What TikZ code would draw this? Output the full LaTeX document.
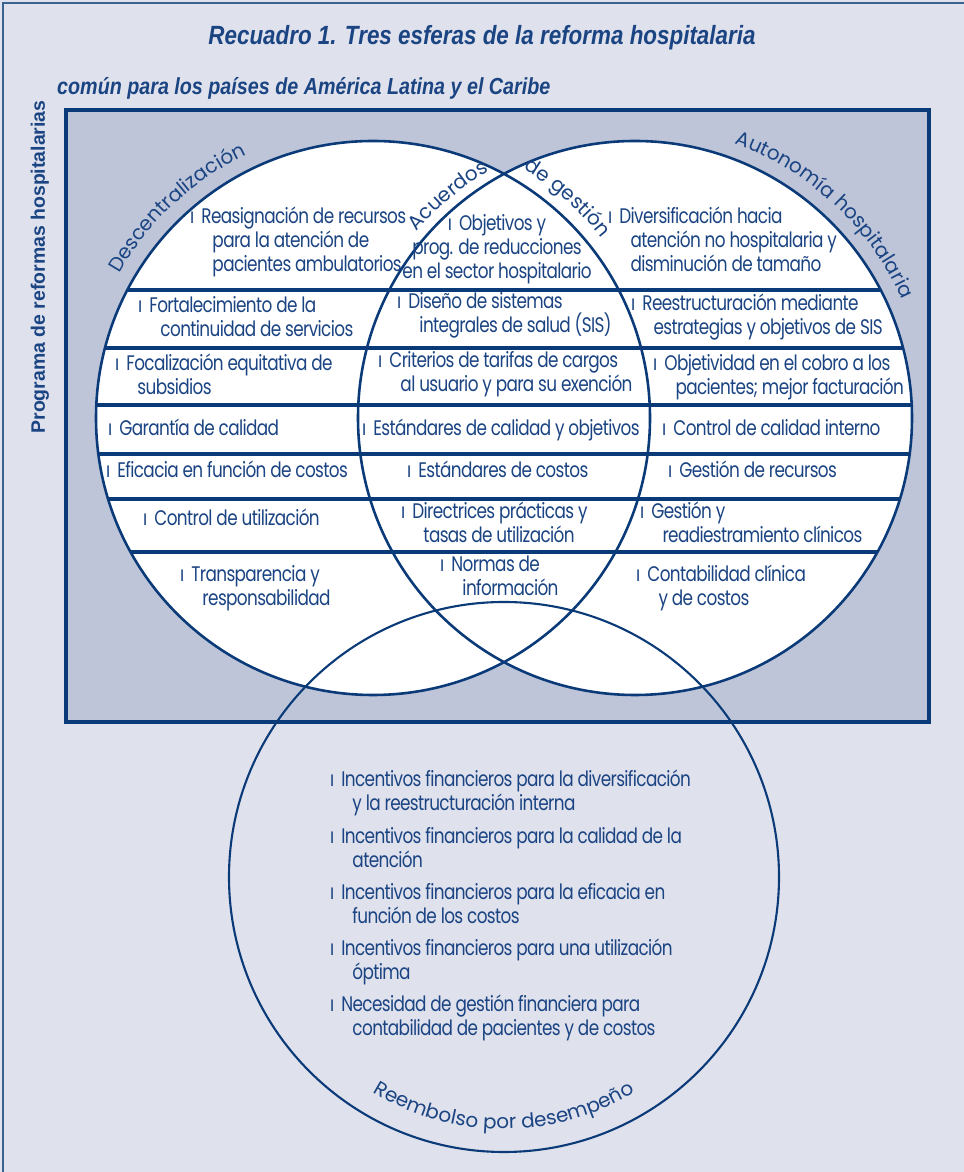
\documentclass[tikz,border=0pt]{standalone}
\usepackage{fontspec}
\usetikzlibrary{decorations.text}
\setmainfont{Poppins}[FakeStretch=0.8,LetterSpace=-3]
\newfontfamily\titfont{Liberation Sans}[FakeStretch=0.85]
\newfontfamily\progfont{Liberation Sans}
\newfontfamily\arcfont{Poppins}
\definecolor{azul}{HTML}{0B3A78}
\definecolor{letra}{HTML}{1B4483}
\definecolor{fondo}{HTML}{DFE1EC}
\definecolor{marco}{HTML}{BEC5D8}
\newcommand\bul{ı\hspace{6pt}}
\newcommand\sig{\\\hspace*{19pt}}

\begin{document}
\begin{tikzpicture}[x=0.03cm,y=0.03cm,
  item/.style={anchor=base west,align=left,inner sep=0,text=letra,font=\fontsize{18}{20.5}\selectfont},
  banda/.style={azul,line width=3.4pt},
  esfera/.style={azul,line width=2.2pt},
  arco/.style={decorate,decoration={text along path,text align=center,text color=letra,text={#1}}}]
\useasboundingbox (0,0) rectangle (964,1172);
\fill[fondo] (0,0) rectangle (964,1172);
\draw[color=azul!80,line width=1.2pt] (3,0) -- (3,1169) -- (964,1169);

\coordinate (izq) at (373,754);
\coordinate (der) at (635,754);
\coordinate (inf) at (504,295);

% recuadro y esferas
\filldraw[fill=marco,draw=azul,line width=2.6pt] (66,450) rectangle (929,1062);
\fill[white] (izq) circle[radius=277] (der) circle[radius=277];
\begin{scope}
  \clip (izq) circle[radius=277] (der) circle[radius=277];
  \foreach \y in {882,824,767,718,673,620}
    \draw[banda] (80,\y) -- (930,\y);
\end{scope}
\draw[esfera] (izq) circle[radius=277];
\draw[esfera] (der) circle[radius=277];
\draw[esfera,line width=1.8pt] (inf) circle[radius=275];

% titulos
\node[text=letra] (titulo) at (482,1134)
  {\titfont\bfseries\itshape\fontsize{22.5}{26}\selectfont Recuadro 1. Tres esferas de la reforma hospitalaria};
\node[text=letra,anchor=west,inner sep=0] (subtitulo) at (57,1084)
  {\titfont\bfseries\itshape\fontsize{19.8}{23}\selectfont común para los países de América Latina y el Caribe};
\node[text=letra,rotate=90] (programa) at (40,905)
  {\progfont\bfseries\fontsize{16.6}{19}\selectfont Programa de reformas hospitalarias};

% descentralizacion (anclas en la ultima linea)
\node[item] (reasig) at (190,900) {\bul Reasignación de recursos\sig para la atención de\sig pacientes ambulatorios};
\node[item] (fortal) at (138,835) {\bul Fortalecimiento de la\sig continuidad de servicios};
\node[item] (focal) at (115,777) {\bul Focalización equitativa de\sig subsidios};
\node[item] (garant) at (108,736) {\bul Garantía de calidad};
\node[item] (eficac) at (106,694) {\bul Eficacia en función de costos};
\node[item] (controlu) at (143,646) {\bul Control de utilización};
\node[item] (transp) at (180,566) {\bul Transparencia y\sig responsabilidad};

% acuerdos de gestion
\node[item,anchor=base,align=center] (objet) at (497,893) {\bul Objetivos y\\prog. de reducciones\\en el sector hospitalario};
\node[item] (disen) at (397,839) {\bul Diseño de sistemas\sig integrales de salud (SIS)};
\node[item] (criter) at (378,780) {\bul Criterios de tarifas de cargos\sig al usuario y para su exención};
\node[item] (estcal) at (362,736) {\bul Estándares de calidad y objetivos};
\node[item] (estcos) at (407,694) {\bul Estándares de costos};
\node[item] (direc) at (401,629) {\bul Directrices prácticas y\sig tasas de utilización};
\node[item] (normas) at (440,576) {\bul Normas de\sig información};

% autonomia hospitalaria
\node[item] (divers) at (608,900) {\bul Diversificación hacia\sig atención no hospitalaria y\sig disminución de tamaño};
\node[item] (reestr) at (631,837) {\bul Reestructuración mediante\sig estrategias y objetivos de SIS};
\node[item] (objcob) at (653,777) {\bul Objetividad en el cobro a los\sig pacientes; mejor facturación};
\node[item] (concal) at (662,736) {\bul Control de calidad interno};
\node[item] (gestrec) at (668,694) {\bul Gestión de recursos};
\node[item] (gesty) at (640,629) {\bul Gestión y\sig readiestramiento clínicos};
\node[item] (contab) at (636,566) {\bul Contabilidad clínica\sig y de costos};

% reembolso
\node[item] (incdiv) at (330,361) {\bul Incentivos financieros para la diversificación\sig y la reestructuración interna};
\node[item] (inccal) at (330,304) {\bul Incentivos financieros para la calidad de la\sig atención};
\node[item] (inceff) at (330,248) {\bul Incentivos financieros para la eficacia en\sig función de los costos};
\node[item] (incuti) at (330,192) {\bul Incentivos financieros para una utilización\sig óptima};
\node[item] (necges) at (330,136) {\bul Necesidad de gestión financiera para\sig contabilidad de pacientes y de costos};

% rotulos curvos
\path[arco={|\arcfont\fontsize{17}{19}\selectfont|Descentralización}]
  ([shift={(izq)}]172:292) arc[start angle=172,end angle=94,radius=292];
\path[arco={|\arcfont\fontsize{17}{19}\selectfont|Acuerdos}]
  ([shift={(der)}]155:287) arc[start angle=155,end angle=105,radius=287];
\path[arco={|\arcfont\fontsize{17}{19}\selectfont|de gestión}]
  ([shift={(izq)}]75:291) arc[start angle=75,end angle=22,radius=291];
\path[arco={|\arcfont\fontsize{17}{19}\selectfont|Autonomía hospitalaria}]
  ([shift={(der)}]90:292) arc[start angle=90,end angle=4,radius=292];
\path[arco={|\arcfont\fontsize{17}{19}\selectfont|Reembolso por desempeño}]
  ([shift={(inf)}]-140:252) arc[start angle=-140,end angle=-40,radius=252];
\end{tikzpicture}
\end{document}
